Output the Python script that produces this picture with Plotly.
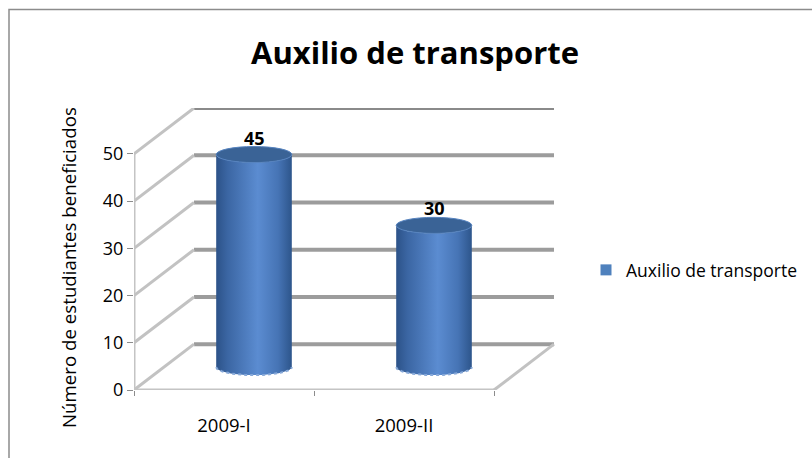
import numpy as np
import plotly.graph_objects as go

# ---- data ----
categories = ["2009-I", "2009-II"]
values = [45, 30]
series_name = "Auxilio de transporte"
y_ticks = [0, 10, 20, 30, 40, 50]
chart_title = "Auxilio de transporte"
y_title = "Número de estudiantes beneficiados"

# ---- geometry for the pseudo-3D look ----
DX = 1 / 3          # depth shift in x units
DY = 9.7            # depth shift in y units
YMAX = max(y_ticks)
RX = 0.21           # cylinder radius (x units)
RY = 1.7            # ellipse half-height (y units)

FONT = "Open Sans"
W, H = 812, 458
L, R, T, B = 134, 256, 108, 68

fig = go.Figure()

shapes = []
grid_col = "#9c9c9c"
# back wall horizontal lines
for v in y_ticks:
    shapes.append(dict(type="line", xref="x", yref="y", layer="below",
                       x0=-0.5 + DX, x1=1.5 + DX, y0=v + DY, y1=v + DY,
                       line=dict(color="#8a8a8a" if v == YMAX else grid_col, width=4)))
# left wall diagonals
for v in y_ticks:
    shapes.append(dict(type="line", xref="x", yref="y", layer="below",
                       x0=-0.5, x1=-0.5 + DX, y0=v, y1=v + DY,
                       line=dict(color="#c2c2c2", width=3)))
# front vertical axis line
shapes.append(dict(type="line", xref="x", yref="y", layer="below",
                   x0=-0.5, x1=-0.5, y0=0, y1=YMAX,
                   line=dict(color="#c4c4c4", width=3)))
# floor front edge and right diagonal
shapes.append(dict(type="line", xref="x", yref="y", layer="below",
                   x0=-0.5, x1=1.5, y0=0, y1=0,
                   line=dict(color="#c4c4c4", width=3)))
shapes.append(dict(type="line", xref="x", yref="y", layer="below",
                   x0=1.5, x1=1.5 + DX, y0=0, y1=DY,
                   line=dict(color="#c2c2c2", width=3)))

annotations = []
t_low = np.linspace(np.pi, 2 * np.pi, 60)
for i, (cat, v) in enumerate(zip(categories, values)):
    cx = i + DX / 2
    base = DY / 2
    top = v + DY / 2
    bx = cx + RX * np.cos(t_low)
    by = base + RY * np.sin(t_low)
    tx = (cx + RX * np.cos(t_low))[::-1]
    ty = (top + RY * np.sin(t_low))[::-1]
    fig.add_trace(go.Scatter(
        x=np.concatenate([bx, tx, bx[:1]]), y=np.concatenate([by, ty, by[:1]]),
        mode="lines", fill="toself", line=dict(width=0, color="#3d67a3"),
        fillgradient=dict(type="horizontal",
                          colorscale=[[0, "#2c5288"], [0.15, "#3b66a3"], [0.55, "#5b8cd1"],
                                      [0.82, "#4674b5"], [1, "#2d558b"]]),
        showlegend=False, hoverinfo="skip"))
    fig.add_trace(go.Scatter(x=bx, y=by, mode="lines",
                             line=dict(color="#86a8d8", width=2, dash="dot"),
                             showlegend=False, hoverinfo="skip"))
    shapes.append(dict(type="circle", xref="x", yref="y", layer="above",
                       x0=cx - RX, x1=cx + RX, y0=top - RY, y1=top + RY,
                       fillcolor="#3a6396", line=dict(color="#5683bf", width=1)))
    annotations.append(dict(x=cx, y=top, xref="x", yref="y", text=f"<b>{v}</b>",
                            showarrow=False, yshift=17,
                            font=dict(family=FONT, size=18, color="#000000")))

# legend entry
fig.add_trace(go.Scatter(x=[None], y=[None], mode="markers", name=series_name,
                         marker=dict(symbol="square", size=11, color="#4f81bd")))

# invisible trace on overlay axis for category tick marks
fig.add_trace(go.Scatter(x=[None], y=[None], xaxis="x2", showlegend=False))

pw = W - L - R
ph = H - T - B

# border
shapes.append(dict(type="rect", xref="paper", yref="paper", layer="below",
                   x0=(9 - L) / pw, x1=(W + 5 - L) / pw,
                   y0=-(H + 5 - (H - B)) / ph, y1=((H - B) - 9.5) / ph,
                   line=dict(color="#8c8c8c", width=1.5), fillcolor="rgba(0,0,0,0)"))

annotations.append(dict(x=(68 - L) / pw, y=((H - B) - 268) / ph, xref="paper", yref="paper",
                        xanchor="center", yanchor="middle",
                        text=y_title, textangle=-90, showarrow=False,
                        font=dict(family=FONT, size=18.7, color="#000000")))

xr = [-0.5, -0.5 + pw / 180]
fig.update_layout(
    width=W, height=H, margin=dict(l=L, r=R, t=T, b=B, autoexpand=False),
    paper_bgcolor="white", plot_bgcolor="white",
    title=dict(text=f"<b>{chart_title}</b>", x=415 / W, xanchor="center",
               y=1 - 53 / H, yanchor="middle", yref="container",
               font=dict(family=FONT, size=31, color="#000000")),
    xaxis=dict(range=xr, tickvals=list(range(len(categories))), ticktext=categories,
               showgrid=False, zeroline=False, showline=False, ticks="",
               ticklabelstandoff=22,
               tickfont=dict(family=FONT, size=18.5, color="#000000")),
    xaxis2=dict(range=xr, overlaying="x", side="bottom", anchor="y",
                tickvals=[-0.5, 0.5, 1.5], showticklabels=False, ticks="outside",
                ticklen=5, tickcolor="#8c8c8c", tickwidth=1, showgrid=False,
                zeroline=False, showline=False),
    yaxis=dict(range=[0, YMAX + DY], tickvals=y_ticks, ticks="outside", ticklen=6,
               tickcolor="#8c8c8c", showgrid=False, zeroline=False, showline=False,
               tickfont=dict(family=FONT, size=18, color="#000000")),
    legend=dict(x=(586 - L) / pw, y=((H - B) - 270) / ph, xanchor="left", yanchor="middle",
                font=dict(family=FONT, size=17.5, color="#000000"), bgcolor="rgba(0,0,0,0)"),
    shapes=shapes, annotations=annotations, showlegend=True,
)

fig.write_html("out.html", config={"displayModeBar": False},
               post_script="document.body.style.margin='0px';")
